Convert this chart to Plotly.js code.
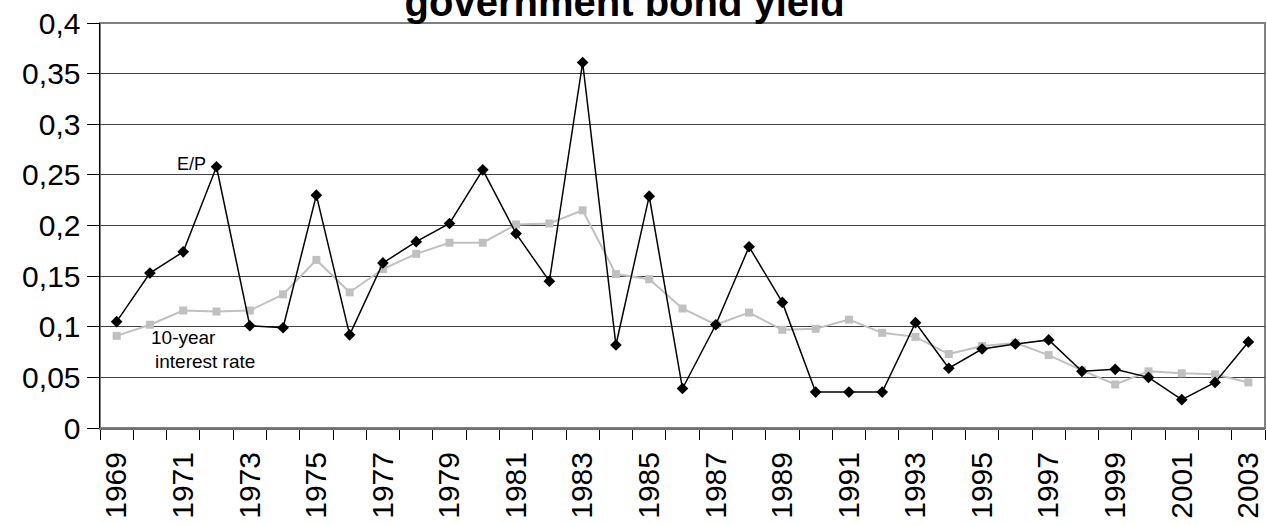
<!DOCTYPE html>
<html>
<head>
<meta charset="utf-8">
<script src="https://cdn.plot.ly/plotly-3.0.1.min.js"></script>
<style>
  html, body { margin: 0; padding: 0; background: #fff; }
  #chart { width: 1267px; height: 525px; }
</style>
</head>
<body>
<div id="chart"></div>
<script>
const years = [1969, 1970, 1971, 1972, 1973, 1974, 1975, 1976, 1977, 1978,
               1979, 1980, 1981, 1982, 1983, 1984, 1985, 1986, 1987, 1988,
               1989, 1990, 1991, 1992, 1993, 1994, 1995, 1996, 1997, 1998,
               1999, 2000, 2001, 2002, 2003];

const epRatio = [0.105, 0.153, 0.174, 0.258, 0.101, 0.099, 0.230, 0.092, 0.163, 0.184,
                 0.202, 0.255, 0.192, 0.145, 0.361, 0.082, 0.229, 0.039, 0.102, 0.179,
                 0.124, 0.0355, 0.0355, 0.0355, 0.104, 0.059, 0.078, 0.083, 0.087, 0.056,
                 0.058, 0.050, 0.028, 0.045, 0.085];

const bondYield = [0.091, 0.102, 0.116, 0.115, 0.116, 0.132, 0.166, 0.134, 0.157, 0.172,
                   0.183, 0.183, 0.201, 0.202, 0.215, 0.152, 0.147, 0.118, 0.102, 0.114,
                   0.097, 0.098, 0.107, 0.094, 0.090, 0.073, 0.081, 0.084, 0.072, 0.057,
                   0.043, 0.056, 0.054, 0.053, 0.045];

const tickYears = [1969, 1971, 1973, 1975, 1977, 1979, 1981, 1983, 1985, 1987,
                   1989, 1991, 1993, 1995, 1997, 1999, 2001, 2003];
const tickLabels = ["1969", "1971", "1973", "1975", "1977", "1979", "1981", "1983", "1985", "1987",
                    "1989", "1991", "1993", "1995", "1997", "1999", "2001", "2003"];

const titleText = "government bond yield";
const epLabel = "E/P";
const bondLabel1 = "10-year";
const bondLabel2 = "interest rate";

const FONT = "Arial, 'Liberation Sans', sans-serif";

const traces = [
  {
    x: years, y: bondYield, type: 'scatter', mode: 'lines+markers', name: 'interest',
    line: { color: '#c0c0c0', width: 2 },
    marker: { symbol: 'square', size: 8, color: '#c0c0c0' },
    hoverinfo: 'skip'
  },
  {
    x: years, y: epRatio, type: 'scatter', mode: 'lines+markers', name: 'E/P',
    line: { color: '#000000', width: 1.5 },
    marker: { symbol: 'diamond', size: 9, color: '#000000' },
    hoverinfo: 'skip'
  }
];

const layout = {
  width: 1267, height: 525,
  margin: { l: 100, r: 2, t: 23, b: 97 },
  paper_bgcolor: '#ffffff', plot_bgcolor: '#ffffff',
  separators: ', ',
  showlegend: false,
  font: { family: FONT, color: '#000' },
  title: {
    text: '<b>' + titleText + '</b>',
    font: { family: FONT, size: 40, color: '#000' },
    xref: 'container', x: 0.493, xanchor: 'center',
    yref: 'container', y: 1 - 16 / 525, yanchor: 'bottom'
  },
  xaxis: {
    type: 'linear',
    range: [1968.5, 2003.5],
    tickmode: 'array', tickvals: tickYears, ticktext: tickLabels,
    tickangle: -90,
    tickfont: { family: FONT, size: 30, color: '#000' },
    ticklabelstandoff: 10,
    ticks: '', showgrid: false, zeroline: false,
    showline: true, linecolor: '#707070', linewidth: 2,
    minor: { tick0: 1968.5, dtick: 1, ticks: 'outside', ticklen: 10, tickcolor: '#000', tickwidth: 1, showgrid: false },
    fixedrange: true
  },
  yaxis: {
    range: [0, 0.4],
    tickmode: 'linear', tick0: 0, dtick: 0.05,
    tickfont: { family: FONT, size: 30, color: '#000' },
    ticks: 'outside', ticklen: 12, tickcolor: '#000', tickwidth: 1,
    showgrid: true, gridcolor: '#404040', gridwidth: 1,
    zeroline: false,
    showline: true, linecolor: '#000', linewidth: 1.5,
    fixedrange: true
  },
  shapes: [
    { type: 'rect', xref: 'paper', yref: 'paper', x0: 0, x1: 1, y0: 0, y1: 1,
      line: { color: '#808080', width: 2 }, layer: 'below' }
  ],
  annotations: [
    { text: epLabel, xref: 'paper', yref: 'paper',
      x: (208 - 100) / 1165, y: (428 - 164) / 405, xanchor: 'right', yanchor: 'middle',
      showarrow: false, font: { family: FONT, size: 18, color: '#000' } },
    { text: bondLabel1, xref: 'paper', yref: 'paper',
      x: (149 - 100) / 1165, y: (428 - 337) / 405, xanchor: 'left', yanchor: 'middle',
      showarrow: false, font: { family: FONT, size: 19, color: '#000' } },
    { text: bondLabel2, xref: 'paper', yref: 'paper',
      x: (153 - 100) / 1165, y: (428 - 361) / 405, xanchor: 'left', yanchor: 'middle',
      showarrow: false, font: { family: FONT, size: 19, color: '#000' } }
  ]
};

Plotly.newPlot('chart', traces, layout, { staticPlot: true, displayModeBar: false });
</script>
</body>
</html>
